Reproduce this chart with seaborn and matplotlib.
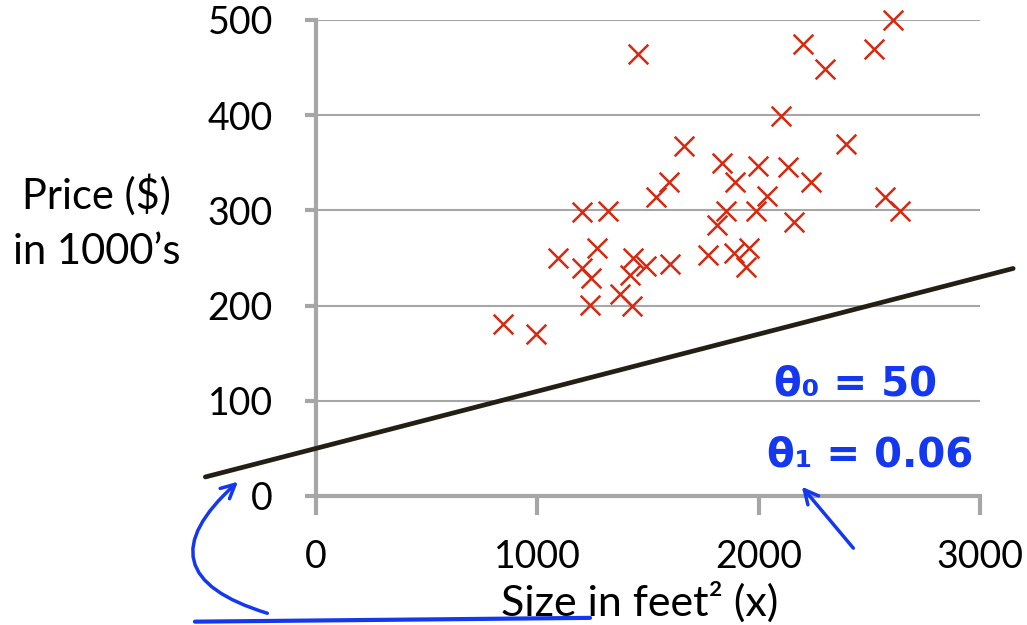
import numpy as np
import pandas as pd
import matplotlib
matplotlib.use("Agg")
import matplotlib.pyplot as plt
import seaborn as sns

# housing data (size in feet^2, price in $1000's)
size = [845, 994, 1094, 1202, 1202, 1243, 1270, 1238, 1319, 1373, 1419, 1428, 1432,
        1455, 1491, 1536, 1595, 1600, 1663, 1771, 1812, 1835, 1853, 1889, 1893, 1943,
        1957, 1988, 1997, 2038, 2101, 2133, 2160, 2201, 2237, 2300, 2395, 2521, 2571,
        2607, 2639]
price = [181, 170, 250, 298, 239, 229, 260, 201, 299, 212, 232, 200, 250,
         464, 242, 314, 330, 244, 368, 253, 285, 350, 299, 255, 330, 241,
         260, 299, 347, 315, 399, 346, 288, 475, 330, 449, 370, 470, 314,
         500, 299]

theta0 = 50
theta1 = 0.06
line_x = np.array([-500, 3150])
line_y = theta0 + theta1 * line_x

xticks = [0, 1000, 2000, 3000]
yticks = [0, 100, 200, 300, 400, 500]

sns.set_style("white")
plt.rcParams['font.family'] = ['Lato', 'DejaVu Sans']

fig = plt.figure(figsize=(10.27, 6.25), dpi=100)
ax = fig.add_axes([0.3077, 0.2064, 0.6465, 0.7616])

red = '#d42a12'
blue = '#1438f0'
grey = '#a6a6a6'

sns.lineplot(x=line_x, y=line_y, color='#231f14', linewidth=3.4, ax=ax, clip_on=False, zorder=3)
sns.scatterplot(x=size, y=price, marker='x', color=red, s=200, linewidth=1.8, ax=ax,
                clip_on=False, zorder=4)

ax.set_xlim(0, 3000)
ax.set_ylim(0, 500)
ax.set_xticks(xticks)
ax.set_yticks(yticks)
ax.yaxis.grid(True, color=grey, linewidth=1.5)
ax.set_axisbelow(True)

for s in ['top', 'right']:
    ax.spines[s].set_visible(False)
for s in ['left', 'bottom']:
    ax.spines[s].set_color(grey)
    ax.spines[s].set_linewidth(3)

ax.tick_params(axis='x', length=14, width=3, color=grey, pad=17, labelsize=27,
               labelcolor='black')
ax.tick_params(axis='y', length=8, width=3, color=grey, pad=23, labelsize=27,
               labelcolor='black')
ax.tick_params(left=True, bottom=True)

ax.set_xlabel("Size in feet² (x)", fontsize=31, color='black', va='center')
ax.xaxis.set_label_coords(0.488, -0.222)
ax.set_ylabel("Price ($)\nin 1000’s", fontsize=30, color='black', rotation=0,
              ha='center', va='center', linespacing=1.55)
ax.yaxis.set_label_coords(-0.33, 0.575)

# handwritten notes
ax.text(2436, 117, "θ₀ = 50", color=blue, fontsize=29, fontweight='bold',
        family=['DejaVu Sans'], ha='center', va='center')
ax.text(2503, 43, "θ₁ = 0.06", color=blue, fontsize=29, fontweight='bold',
        family=['DejaVu Sans'], ha='center', va='center')
ax.annotate('', xy=(2187, 12), xytext=(2436, -57),
            arrowprops=dict(arrowstyle='->', color=blue, lw=2.5, mutation_scale=25),
            annotation_clip=False)
ax.annotate('', xy=(-343, 17), xytext=(-208, -124),
            arrowprops=dict(arrowstyle='->', color=blue, lw=2.5, mutation_scale=25,
                            connectionstyle='arc3,rad=-0.9'),
            annotation_clip=False)
ax.plot([-547, 1238], [-132, -128], color=blue, lw=3, clip_on=False)

fig.savefig("out.png", dpi=100)
